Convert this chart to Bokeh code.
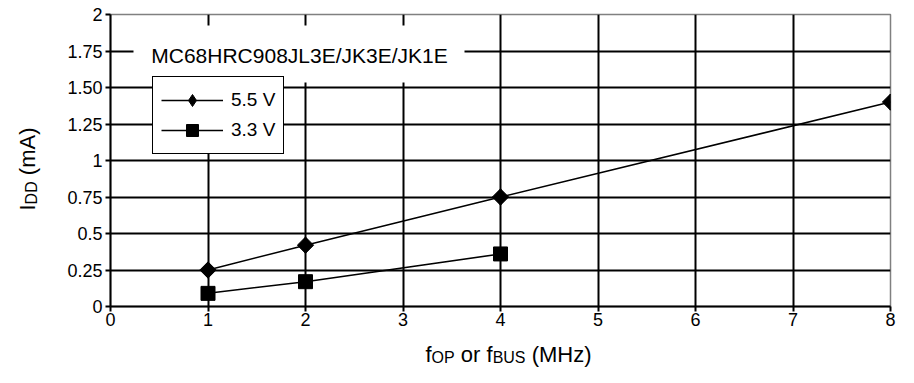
import math
from bokeh.plotting import figure
from bokeh.layouts import row, column
from bokeh.models import Range1d, FixedTicker, Legend, LegendItem, Label, BoxAnnotation
from bokeh.embed import file_html
from bokeh.resources import INLINE

# ---- data ----
freq_55 = [1, 2, 4, 8]
idd_55 = [0.25, 0.42, 0.75, 1.40]
freq_33 = [1, 2, 4]
idd_33 = [0.09, 0.17, 0.36]
series_names = ["5.5 V", "3.3 V"]
x_ticks = [0, 1, 2, 3, 4, 5, 6, 7, 8]
y_ticks = [0, 0.25, 0.5, 0.75, 1.0, 1.25, 1.5, 1.75, 2.0]
y_tick_labels = ["0", "0.25", "0.5", "0.75", "1", "1.25", "1.50", "1.75", "2"]
chart_title = "MC68HRC908JL3E/JK3E/JK1E"
# (text, is_subscript, leading gap in spaces)
x_label_parts = [("f", False, 0), ("OP", True, 0), ("or f", False, 1), ("BUS", True, 0), ("(MHz)", False, 1)]
y_label_parts = [("I", False, 0), ("DD", True, 0), ("(mA)", False, 1)]

FONT = "Liberation Sans"
MAIN_PX, SUB_PX = 22, 16


def text_width(s, px):
    # approximate advance widths of Liberation Sans (Arial metrics), em units
    w = {"f": .278, "O": .778, "P": .667, " ": .278, "o": .556, "r": .333, "B": .667,
         "U": .722, "S": .667, "(": .333, ")": .333, "M": .833, "H": .722, "z": .5,
         "I": .278, "D": .722, "m": .833, "A": .667}
    return sum(w.get(c, .556) for c in s) * px


YLAB_W = 44
TOTAL_W, TOTAL_H = 898, 367
MAIN_H = 333
FRAME_LEFT, FRAME_TOP, FRAME_BOTTOM = 110, 14, 306

main = figure(width=TOTAL_W - YLAB_W, height=MAIN_H, x_range=Range1d(0, 8), y_range=Range1d(0, 2),
              output_backend="svg", toolbar_location=None,
              min_border_left=FRAME_LEFT - YLAB_W, min_border_right=8, min_border_top=FRAME_TOP,
              min_border_bottom=MAIN_H - FRAME_BOTTOM)
p = main
p.background_fill_color = "white"
p.border_fill_color = "white"
p.outline_line_color = "#808080"
p.outline_line_width = 1.5

# axes
p.xaxis.ticker = FixedTicker(ticks=x_ticks)
p.yaxis.ticker = FixedTicker(ticks=y_ticks)
p.yaxis.major_label_overrides = dict(zip(y_ticks, y_tick_labels))
for ax in (p.xaxis, p.yaxis):
    ax.axis_line_color = "black"
    ax.axis_line_width = 2
    ax.major_tick_line_color = "black"
    ax.major_tick_line_width = 2
    ax.major_tick_in = 0
    ax.major_tick_out = 5
    ax.minor_tick_line_color = None
    ax.major_label_text_font = FONT
    ax.major_label_text_font_size = "18px"
    ax.major_label_text_color = "black"
p.yaxis.major_label_standoff = 3
p.xaxis.major_label_standoff = 1

# grid
p.xgrid.ticker = FixedTicker(ticks=x_ticks[1:-1])
p.ygrid.ticker = FixedTicker(ticks=y_ticks[1:-1])
for g in (p.xgrid, p.ygrid):
    g.grid_line_color = "black"
    g.grid_line_width = 2
    g.grid_line_alpha = 1

# title box (white background over grid)
p.add_layout(BoxAnnotation(left=23, right=354, bottom=FRAME_BOTTOM - 82, top=FRAME_BOTTOM - 25,
                           left_units="screen", right_units="screen",
                           bottom_units="screen", top_units="screen",
                           fill_color="white", fill_alpha=1, line_color=None))
p.add_layout(Label(x=189, y=FRAME_BOTTOM - 55, x_units="screen", y_units="screen", text=chart_title,
                   text_align="center", text_baseline="middle",
                   text_font=FONT, text_font_size="21px", text_color="black"))

# data
l55 = p.line(freq_55, idd_55, line_color="black", line_width=1.5)
s55_leg = p.scatter(freq_55, idd_55, marker="diamond", size=16,
                    fill_color="black", line_color="black")
s55 = p.scatter(freq_55, idd_55, marker="square", angle=math.pi / 4, size=11.5,
                fill_color="black", line_color="black")
l33 = p.line(freq_33, idd_33, line_color="black", line_width=1.5)
s33 = p.scatter(freq_33, idd_33, marker="square", size=14,
                fill_color="black", line_color="black")

legend = Legend(items=[LegendItem(label=series_names[0], renderers=[l55, s55_leg]),
                       LegendItem(label=series_names[1], renderers=[l33, s33])],
                location=(42, FRAME_BOTTOM - 154), margin=0, padding=8, spacing=0,
                glyph_width=62, glyph_height=30, label_height=30, label_standoff=8,
                label_text_font=FONT, label_text_font_size="19px", label_text_color="black",
                border_line_color="black", border_line_width=1.5, border_line_alpha=1,
                background_fill_color="white", background_fill_alpha=1)
p.add_layout(legend)


def text_strip(width, height):
    f = figure(width=width, height=height, x_range=Range1d(0, 1), y_range=Range1d(0, 1),
               output_backend="svg", toolbar_location=None, min_border=0,
               x_axis_type=None, y_axis_type=None)
    f.outline_line_color = None
    f.background_fill_color = "white"
    f.border_fill_color = "white"
    f.xgrid.visible = False
    f.ygrid.visible = False
    return f


# x axis label: f_OP or f_BUS (MHz)  (strip frame is aligned with the main frame)
xfig = text_strip(TOTAL_W - YLAB_W, TOTAL_H - MAIN_H)
xpos = 425 - FRAME_LEFT
for txt, sub, gap in x_label_parts:
    px = SUB_PX if sub else MAIN_PX
    xpos += gap * text_width(" ", px)
    xfig.add_layout(Label(x=xpos, y=10 if sub else 13, x_units="screen", y_units="screen",
                          text=txt, text_font=FONT, text_font_size=f"{px}px",
                          text_color="black", text_align="left", text_baseline="alphabetic"))
    xpos += text_width(txt, px)

# y axis label: I_DD (mA), rotated
yfig = text_strip(YLAB_W, TOTAL_H)
ypos = 157
for txt, sub, gap in y_label_parts:
    px = SUB_PX if sub else MAIN_PX
    ypos += gap * text_width(" ", px)
    yfig.add_layout(Label(x=31 if sub else 27, y=ypos, x_units="screen", y_units="screen",
                          angle=math.pi / 2, text=txt, text_font=FONT,
                          text_font_size=f"{px}px", text_color="black",
                          text_align="left", text_baseline="alphabetic"))
    ypos += text_width(txt, px)

layout = row(yfig, column(main, xfig, spacing=0), spacing=0)
open("out.html", "w").write(file_html(layout, INLINE))
